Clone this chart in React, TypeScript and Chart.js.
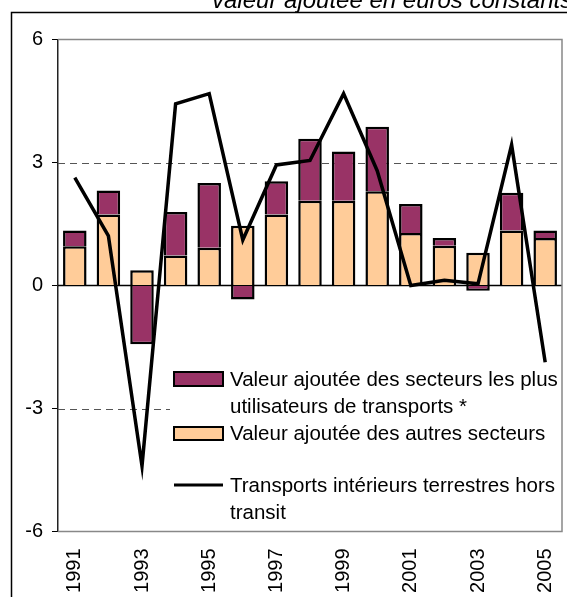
import React, { useEffect, useRef } from "react";
import { Chart, registerables } from "chart.js";

Chart.register(...registerables);

const years = ["1991", "1992", "1993", "1994", "1995", "1996", "1997", "1998", "1999", "2000", "2001", "2002", "2003", "2004", "2005"];
const autresSecteurs = [0.96, 1.73, 0.37, 0.73, 0.92, 1.46, 1.73, 2.07, 2.07, 2.3, 1.28, 0.97, 0.8, 1.34, 1.16];
const secteursUtilisateurs = [0.38, 0.59, -1.43, 1.06, 1.58, -0.34, 0.81, 1.51, 1.2, 1.57, 0.71, 0.19, -0.13, 0.92, 0.18];
const transportsInterieurs = [2.63, 1.21, -4.4, 4.43, 4.68, 1.11, 2.94, 3.05, 4.68, 2.8, 0.0, 0.13, 0.04, 3.43, -1.87];
const yTicks = [-6, -3, 0, 3, 6];
const dashedLevels = [3, -3];
const titleText = "valeur ajoutée en euros constants";
const labelUtilisateurs = ["Valeur ajoutée des secteurs les plus", "utilisateurs de transports *"];
const labelAutres = ["Valeur ajoutée des autres secteurs"];
const labelTransports = ["Transports intérieurs terrestres hors", "transit"];

const PURPLE = "#993366";
const ORANGE = "#FFCC99";
const FONT = '"Liberation Sans", Arial, sans-serif';

export default function App() {
  const ref = useRef<HTMLCanvasElement>(null);

  useEffect(() => {
    const canvas = ref.current;
    if (!canvas) return;

    const decor = {
      id: "decor",
      beforeDatasetsDraw(chart: any) {
        const { ctx, chartArea: a, scales } = chart;
        const y = scales.y;
        ctx.save();
        ctx.strokeStyle = "#555";
        ctx.lineWidth = 1;
        ctx.setLineDash([7, 5]);
        dashedLevels.forEach((v) => {
          const py = Math.round(y.getPixelForValue(v)) + 0.5;
          ctx.beginPath();
          ctx.moveTo(a.left, py);
          ctx.lineTo(a.right, py);
          ctx.stroke();
        });
        ctx.setLineDash([]);
        ctx.strokeStyle = "#000";
        ctx.lineWidth = 1.5;
        const zy = y.getPixelForValue(0);
        ctx.beginPath();
        ctx.moveTo(a.left, zy);
        ctx.lineTo(a.right, zy);
        ctx.stroke();
        ctx.restore();
      },
      afterDraw(chart: any) {
        const { ctx, chartArea: a } = chart;
        ctx.save();
        // legend box
        ctx.fillStyle = "#fff";
        ctx.fillRect(170, 363, 388, 163);
        ctx.lineWidth = 2;
        ctx.strokeStyle = "#000";
        ctx.fillStyle = PURPLE;
        ctx.fillRect(174, 372, 49, 14);
        ctx.strokeRect(174, 372, 49, 14);
        ctx.fillStyle = ORANGE;
        ctx.fillRect(174, 427, 49, 13);
        ctx.strokeRect(174, 427, 49, 13);
        ctx.lineWidth = 3;
        ctx.beginPath();
        ctx.moveTo(174, 485);
        ctx.lineTo(223, 485);
        ctx.stroke();
        ctx.fillStyle = "#000";
        ctx.font = `20.5px ${FONT}`;
        ctx.textBaseline = "alphabetic";
        ctx.textAlign = "left";
        ctx.fillText(labelUtilisateurs[0], 230, 386);
        ctx.fillText(labelUtilisateurs[1], 230, 413);
        ctx.fillText(labelAutres[0], 230, 440);
        ctx.fillText(labelTransports[0], 230, 492);
        ctx.fillText(labelTransports[1], 230, 519);

        // plot border (top, right, bottom)
        ctx.strokeStyle = "#888";
        ctx.lineWidth = 1.5;
        ctx.beginPath();
        ctx.moveTo(a.left, a.top);
        ctx.lineTo(a.right, a.top);
        ctx.lineTo(a.right, a.bottom);
        ctx.lineTo(a.left, a.bottom);
        ctx.stroke();

        // outer frame
        ctx.strokeStyle = "#000";
        ctx.lineWidth = 1.5;
        ctx.beginPath();
        ctx.moveTo(11.5, 597);
        ctx.lineTo(11.5, 12.5);
        ctx.lineTo(567, 12.5);
        ctx.stroke();

        // title (partly cut off)
        ctx.font = `italic 24px ${FONT}`;
        ctx.fillStyle = "#000";
        ctx.fillText(titleText, 212, 7.5);
        ctx.restore();
      },
    };

    const chart = new Chart(canvas, {
      type: "bar",
      data: {
        labels: years,
        datasets: [
          {
            type: "bar",
            label: labelAutres.join(" "),
            data: autresSecteurs,
            backgroundColor: ORANGE,
            borderColor: "#000",
            borderWidth: 2.5,
            stack: "va",
            order: 1,
            barPercentage: 0.7,
            categoryPercentage: 1,
          },
          {
            type: "bar",
            label: labelUtilisateurs.join(" "),
            data: secteursUtilisateurs,
            backgroundColor: PURPLE,
            borderColor: "#000",
            borderWidth: 2.5,
            stack: "va",
            order: 1,
            barPercentage: 0.7,
            categoryPercentage: 1,
          },
          {
            type: "line",
            label: labelTransports.join(" "),
            data: transportsInterieurs,
            borderColor: "#000",
            borderWidth: 3.5,
            pointRadius: 0,
            tension: 0,
            fill: false,
            stack: "line",
            order: 0,
          } as any,
        ],
      },
      options: {
        responsive: false,
        animation: false,
        events: [],
        layout: { padding: { top: 39.5, right: 5, bottom: 0, left: 0 } },
        plugins: {
          legend: { display: false },
          tooltip: { enabled: false },
          title: { display: false },
        },
        scales: {
          x: {
            stacked: true,
            grid: { display: false, drawTicks: false },
            border: { display: false },
            ticks: {
              autoSkip: false,
              maxRotation: 90,
              minRotation: 90,
              padding: 17,
              color: "#000",
              font: { family: FONT, size: 20 },
              callback: (_v: any, i: number) => (i % 2 === 0 ? years[i] : ""),
            },
            afterFit: (s: any) => {
              s.height = 65.5;
              s.paddingLeft = 0;
              s.paddingRight = 0;
            },
          },
          y: {
            stacked: true,
            min: -6,
            max: 6,
            afterBuildTicks: (s: any) => {
              s.ticks = yTicks.map((v) => ({ value: v }));
            },
            grid: { drawOnChartArea: false, drawTicks: true, tickLength: 6, tickColor: "#000" },
            border: { display: true, color: "#222", width: 1.5 },
            ticks: { padding: 9, color: "#000", font: { family: FONT, size: 20 } },
            afterFit: (s: any) => {
              s.width = 58;
            },
          },
        },
      } as any,
      plugins: [decor],
    });

    return () => chart.destroy();
  }, []);

  return (
    <div style={{ position: "absolute", left: 0, top: 0, width: 567, height: 597, background: "#fff" }}>
      <canvas ref={ref} width={567} height={597} style={{ display: "block" }} />
    </div>
  );
}
